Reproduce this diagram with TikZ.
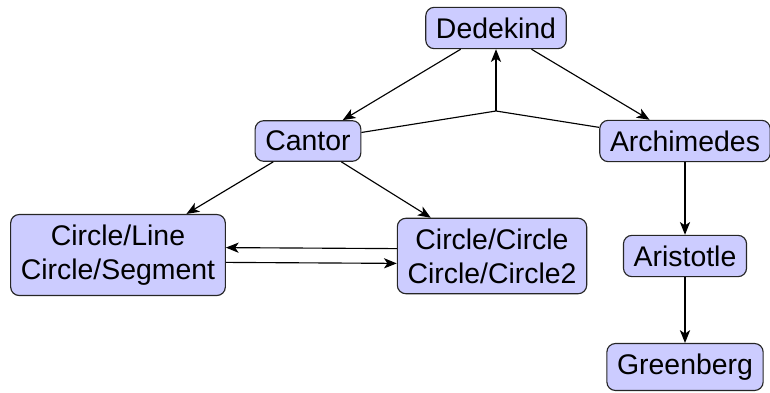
\documentclass[tikz,border=0pt]{standalone}
\usepackage{fontspec}
\setmainfont{Liberation Sans}
\setsansfont{Liberation Sans}
\usetikzlibrary{arrows.meta}
\begin{document}
\begin{tikzpicture}[x=0.352pt,y=-0.352pt,
  box/.style={draw=black!85, fill=blue!20, rounded corners=3pt, inner sep=3.6pt, align=center, font=\sffamily},
  arr/.style={-{Stealth[length=4.5pt,width=3.6pt,inset=1.2pt]}, thin},
  ln/.style={thin}]
\useasboundingbox (0,0) rectangle (770,392);
\node[box] (ded) at (496,28) {Dedekind};
\node[box] (can) at (308,141) {Cantor};
\node[box] (arc) at (685,141) {Archimedes};
\node[box] (cl) at (118,255) {Circle/Line\\Circle/Segment};
\node[box] (cc) at (492,256) {Circle/Circle\\Circle/Circle2};
\node[box] (ari) at (685,256) {Aristotle};
\node[box] (gre) at (685,367) {Greenberg};
\coordinate (j) at (496,111);
\draw[ln] (can) -- (j) -- (arc);
\draw[arr] (j) -- (ded);
\draw[arr] (ded) -- (can);
\draw[arr] (ded) -- (arc);
\draw[arr] (can) -- (cl);
\draw[arr] (can) -- (cc);
\draw[arr] ([yshift=2.6pt]cc.west) -- ([yshift=2.6pt]cl.east);
\draw[arr] ([yshift=-2.6pt]cl.east) -- ([yshift=-2.6pt]cc.west);
\draw[arr] (arc) -- (ari);
\draw[arr] (ari) -- (gre);
\end{tikzpicture}
\end{document}
